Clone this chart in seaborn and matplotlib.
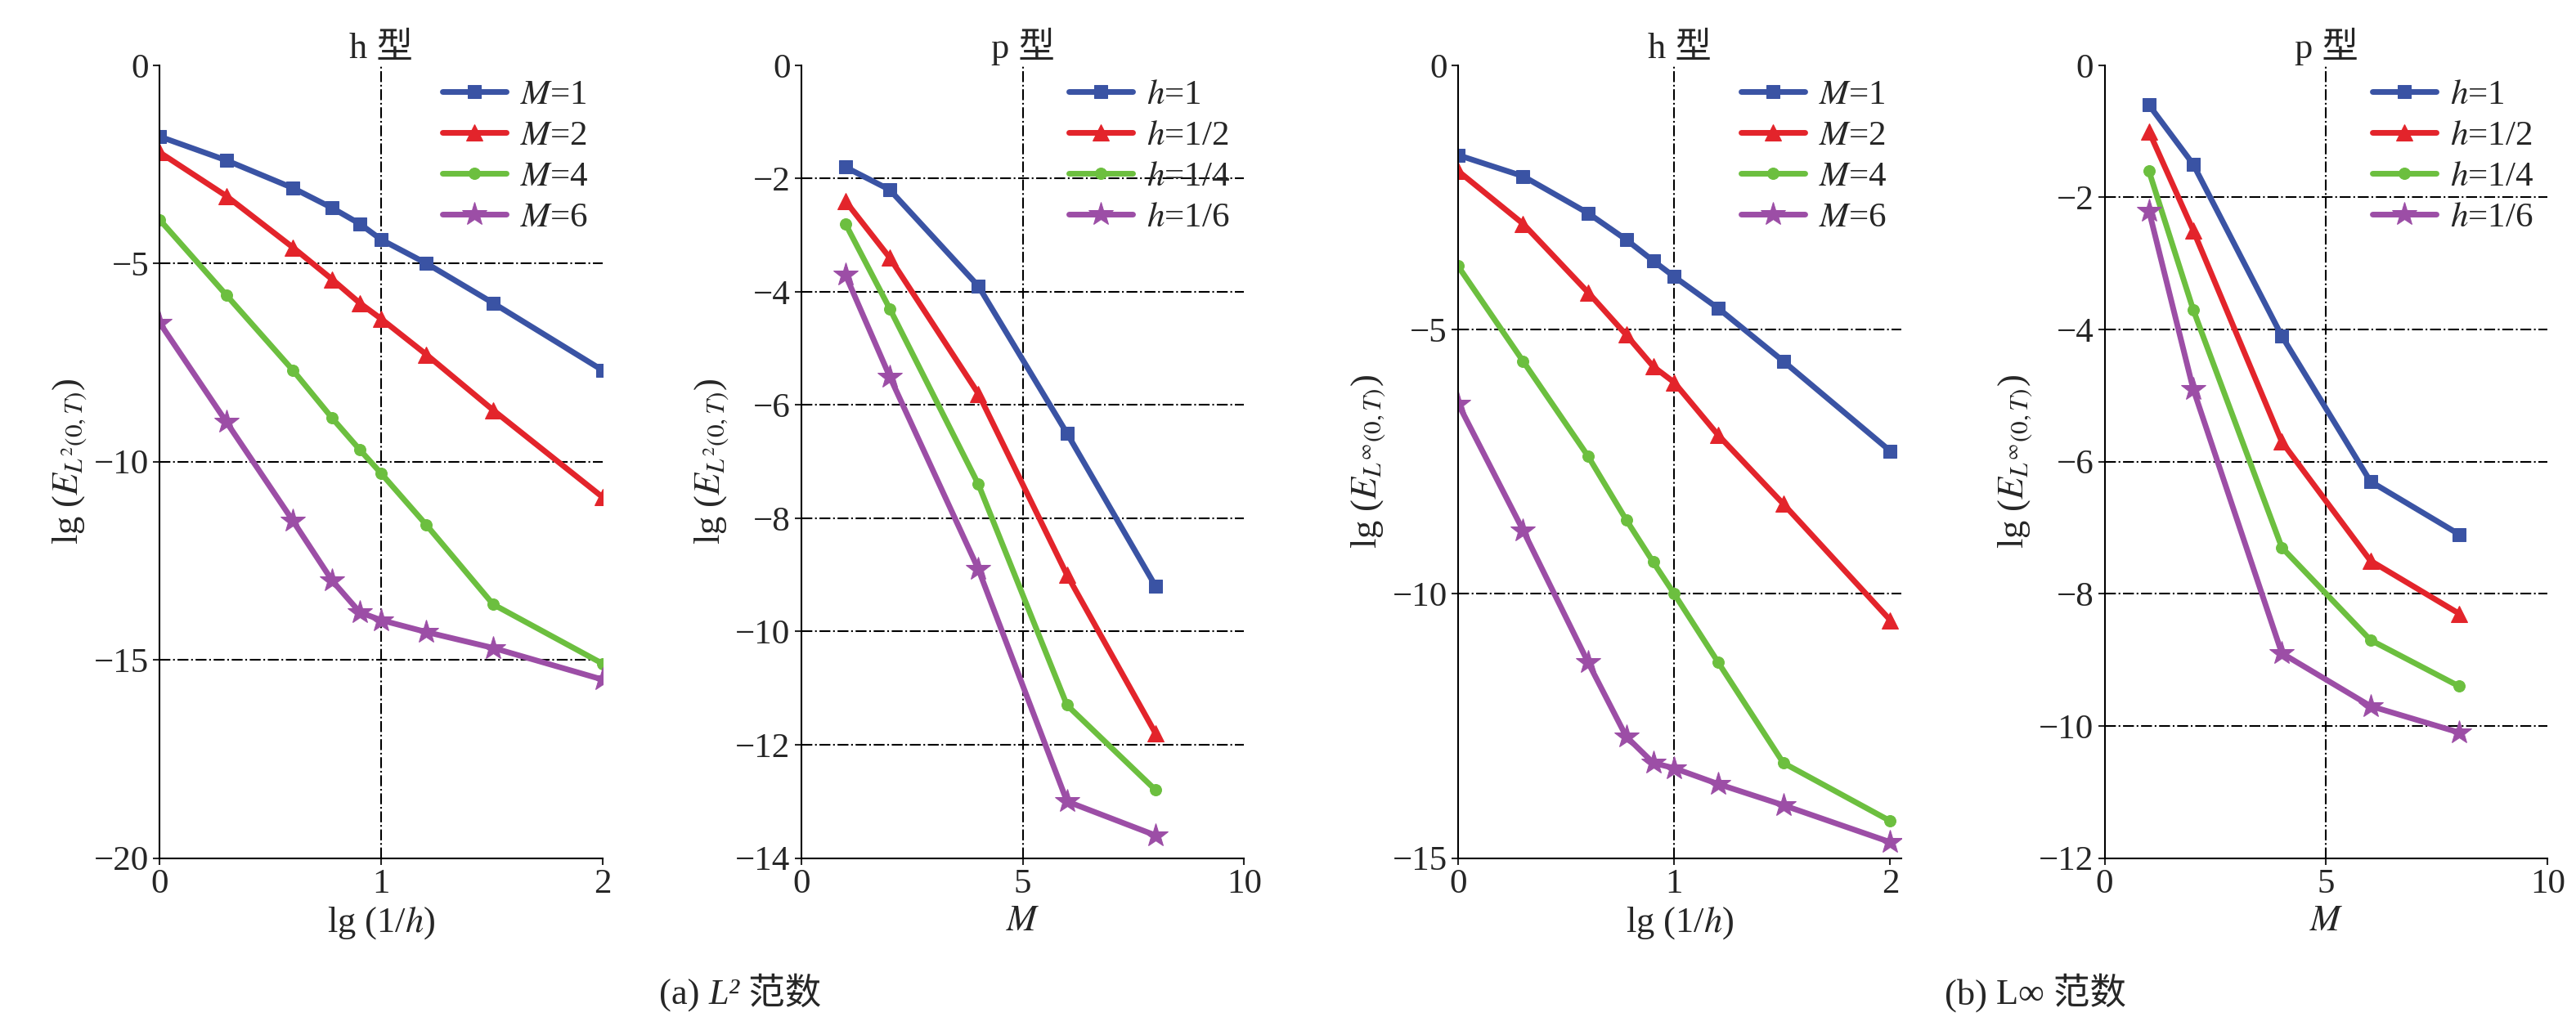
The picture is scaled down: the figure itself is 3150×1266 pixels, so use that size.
import numpy as np
import matplotlib
matplotlib.use('Agg')
import matplotlib.pyplot as plt
import seaborn as sns
import pandas as pd

sns.set_theme(style='white')
plt.rcParams['font.family'] = ['Liberation Serif', 'Noto Sans CJK SC']
plt.rcParams['mathtext.fontset'] = 'stix'

# ── Data ─────────────────────────────────────────────────────────────────────
lg_inv_h = [0, 0.301, 0.602, 0.778, 0.903, 1.0, 1.204, 1.505, 2.0]
m_vals = [1, 2, 4, 6, 8]

h_l2 = {
    '$M$=1': [-1.8, -2.4, -3.1, -3.6, -4.0, -4.4, -5.0, -6.0, -7.7],
    '$M$=2': [-2.2, -3.3, -4.6, -5.4, -6.0, -6.4, -7.3, -8.7, -10.9],
    '$M$=4': [-3.9, -5.8, -7.7, -8.9, -9.7, -10.3, -11.6, -13.6, -15.1],
    '$M$=6': [-6.5, -9.0, -11.5, -13.0, -13.8, -14.0, -14.3, -14.7, -15.5],
}
p_l2 = {
    '$h$=1': [-1.8, -2.2, -3.9, -6.5, -9.2],
    '$h$=1/2': [-2.4, -3.4, -5.8, -9.0, -11.8],
    '$h$=1/4': [-2.8, -4.3, -7.4, -11.3, -12.8],
    '$h$=1/6': [-3.7, -5.5, -8.9, -13.0, -13.6],
}
h_linf = {
    '$M$=1': [-1.7, -2.1, -2.8, -3.3, -3.7, -4.0, -4.6, -5.6, -7.3],
    '$M$=2': [-2.0, -3.0, -4.3, -5.1, -5.7, -6.0, -7.0, -8.3, -10.5],
    '$M$=4': [-3.8, -5.6, -7.4, -8.6, -9.4, -10.0, -11.3, -13.2, -14.3],
    '$M$=6': [-6.4, -8.8, -11.3, -12.7, -13.2, -13.3, -13.6, -14.0, -14.7],
}
p_linf = {
    '$h$=1': [-0.6, -1.5, -4.1, -6.3, -7.1],
    '$h$=1/2': [-1.0, -2.5, -5.7, -7.5, -8.3],
    '$h$=1/4': [-1.6, -3.7, -7.3, -8.7, -9.4],
    '$h$=1/6': [-2.2, -4.9, -8.9, -9.7, -10.1],
}

colors = ['#3a53a4', '#e3242b', '#6cbf3f', '#9c4ea6']
markers = ['s', '^', 'o', '*']
msizes = [12, 14, 10, 22]

panels = [
    (lg_inv_h, h_l2, 'h 型', 'lg (1/$h$)', r'lg ($E_{L^2(0,T)}$)', (0, 2), [0, 1, 2], (-20, 0), [-20, -15, -10, -5, 0], [-5, -10, -15], 1, 0.062),
    (m_vals, p_l2, 'p 型', '$M$', r'lg ($E_{L^2(0,T)}$)', (0, 10), [0, 5, 10], (-14, 0), list(range(-14, 1, 2)), [-2, -4, -6, -8, -10, -12], 5, 0.311),
    (lg_inv_h, h_linf, 'h 型', 'lg (1/$h$)', r'lg ($E_{L^\infty(0,T)}$)', (0, 2.05), [0, 1, 2], (-15, 0), [-15, -10, -5, 0], [-5, -10], 1, 0.566),
    (m_vals, p_linf, 'p 型', '$M$', r'lg ($E_{L^\infty(0,T)}$)', (0, 10), [0, 5, 10], (-12, 0), list(range(-12, 1, 2)), [-2, -4, -6, -8, -10], 5, 0.817),
]

fig = plt.figure(figsize=(31.5, 12.66), dpi=100)
for x, series, title, xl, yl, xlim, xt, ylim, yt, hl, vl, left in panels:
    ax = fig.add_axes([left, 0.171, 0.172, 0.766])
    for yv in hl:
        ax.axhline(yv, color='black', lw=1.5, ls='-.', zorder=0)
    ax.axvline(vl, color='black', lw=1.5, ls='-.', zorder=0)
    for i, (name, vals) in enumerate(series.items()):
        df = pd.DataFrame({'x': x, 'y': vals})
        sns.lineplot(data=df, x='x', y='y', ax=ax, color=colors[i], lw=5,
                     marker=markers[i], markersize=msizes[i], markeredgecolor=colors[i],
                     label=name)
    ax.set_xlim(*xlim)
    ax.set_ylim(*ylim)
    ax.set_xticks(xt)
    ax.set_yticks(yt)
    ax.set_title(title, fontsize=32, pad=6)
    ax.set_xlabel(xl, fontsize=32, labelpad=4)
    ax.set_ylabel(yl, fontsize=32, labelpad=4)
    ax.tick_params(labelsize=31, direction='out', length=6, width=1.5, left=True, bottom=True)
    for s in ['top', 'right']:
        ax.spines[s].set_visible(False)
    for s in ['left', 'bottom']:
        ax.spines[s].set_color('black')
        ax.spines[s].set_linewidth(1.5)
    ax.legend(loc='upper right', frameon=False, fontsize=31, handlelength=1.8,
              borderaxespad=0.0, labelspacing=0.25, handletextpad=0.4)

fig.text(0.275, 0.03, '(a) ', ha='right', fontsize=32)
fig.text(0.275, 0.03, 'L² 范数', ha='left', fontsize=32, style='italic',
         family=['Liberation Serif', 'Noto Sans CJK SC'])
fig.text(0.775, 0.03, '(b) ', ha='right', fontsize=32)
fig.text(0.775, 0.03, 'L∞ 范数', ha='left', fontsize=32,
         family=['Liberation Serif', 'Noto Sans CJK SC'])
fig.savefig('out.png', dpi=100)
